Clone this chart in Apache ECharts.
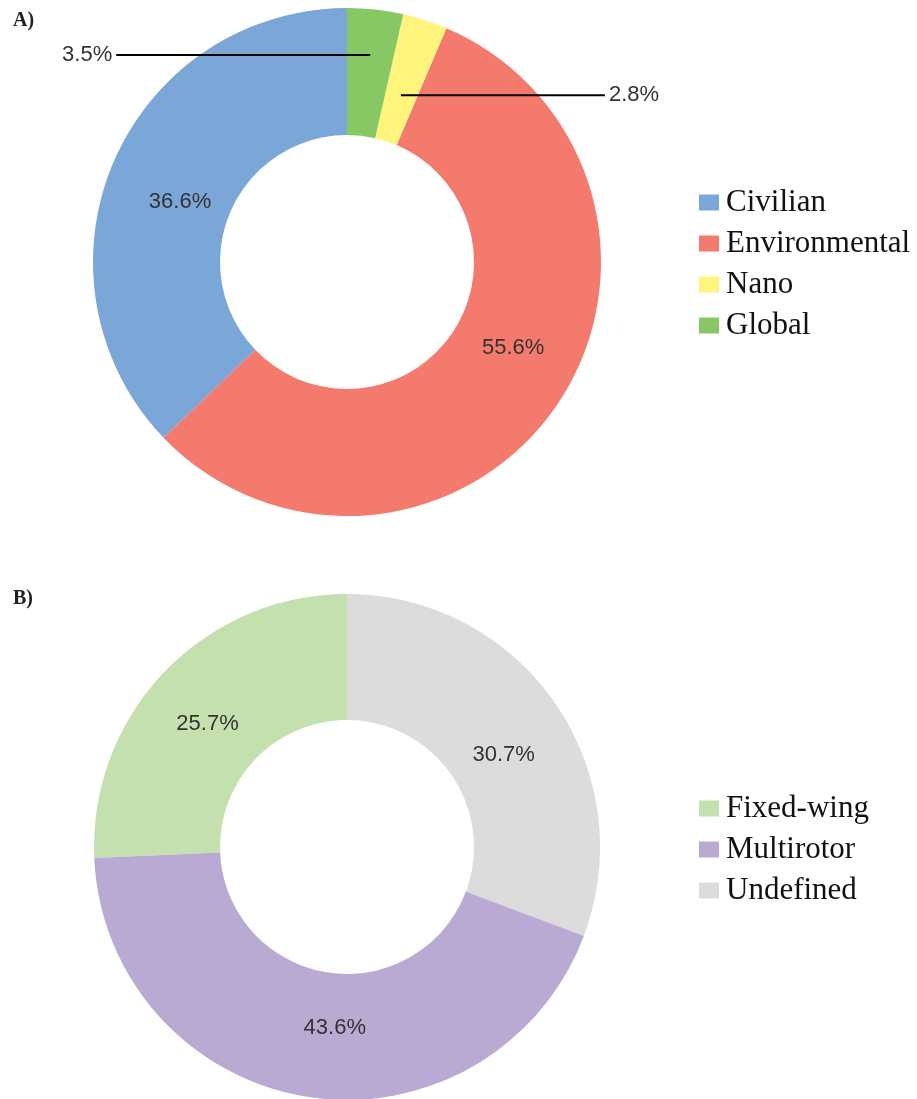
<!DOCTYPE html>
<html>
<head>
<meta charset="utf-8">
<script src="https://cdn.jsdelivr.net/npm/echarts@6/dist/echarts.min.js"></script>
<style>
html,body{margin:0;padding:0;background:#fff;}
#chart{width:917px;height:1099px;}
</style>
</head>
<body>
<div id="chart"></div>
<script>
// Panel A
const categoriesA = ['Civilian', 'Environmental', 'Nano', 'Global'];
const valuesA = [36.6, 55.6, 2.8, 3.5];
const colorsA = ['#7ba6d8', '#f47a6e', '#fff47c', '#88c864'];
// Panel B
const categoriesB = ['Fixed-wing', 'Multirotor', 'Undefined'];
const valuesB = [25.7, 43.6, 30.7];
const colorsB = ['#c3e0ae', '#b9aad4', '#dcdcdc'];

const chart = echarts.init(document.getElementById('chart'), null, {renderer: 'canvas'});

const R0 = 127, R1 = 254;
const centerA = [347, 262], centerB = [347, 847];
const labelFont = {fontFamily: 'Liberation Sans', fontSize: 22, color: '#333'};

// callout settings for the small slices of panel A (radius fraction, line length, direction)
const callouts = {Nano: {rf: 0.69, len: 204, dir: 1}, Global: {rf: 0.82, len: 254, dir: -1}};
// small nudges of inside labels (style only)
const nudge = {
  'Civilian': [11, 16], 'Environmental': [7, -24],
  'Fixed-wing': [0, 10], 'Multirotor': [18, -10], 'Undefined': [-2, 18]
};

function midAngle(values, idx) {
  const total = values.reduce((a, b) => a + b, 0);
  let cum = 0;
  for (let i = 0; i < idx; i++) cum += values[i];
  return (cum + values[idx] / 2) / total * 2 * Math.PI; // counter-clockwise from top
}

function makeData(cats, vals, cols, showFn) {
  return cats.map((c, i) => ({
    name: c, value: vals[i], itemStyle: {color: cols[i]},
    label: {show: showFn(c)}
  }));
}

function nudgeLayout(cats) {
  return function (p) {
    const n = nudge[cats[p.dataIndex]];
    if (!n) return {};
    return {dx: n[0], dy: n[1]};
  };
}

const legendText = {fontFamily: 'Liberation Serif', fontSize: 31, lineHeight: 30, color: '#111', padding: [0, 0, 0, 2]};

const option = {
  animation: false,
  backgroundColor: '#fff',
  title: [
    {text: 'A)', left: 13, top: 11, padding: 0, textStyle: {fontFamily: 'Liberation Serif', fontSize: 20, fontWeight: 'bold', color: '#222'}},
    {text: 'B)', left: 13, top: 589, padding: 0, textStyle: {fontFamily: 'Liberation Serif', fontSize: 20, fontWeight: 'bold', color: '#222'}}
  ],
  legend: [
    {
      data: categoriesA, orient: 'vertical', left: 699, top: 187,
      icon: 'rect', itemWidth: 20, itemHeight: 16, itemGap: 10, padding: 0,
      selectedMode: false, textStyle: legendText
    },
    {
      data: categoriesB, orient: 'vertical', left: 699, top: 793,
      icon: 'rect', itemWidth: 20, itemHeight: 16, itemGap: 10, padding: 0,
      selectedMode: false, textStyle: legendText
    }
  ],
  series: [
    {
      type: 'pie', center: centerA, radius: [R0, R1], clockwise: false, startAngle: 90,
      avoidLabelOverlap: false, silent: true, z: 2,
      label: Object.assign({position: 'inside', formatter: p => p.value.toFixed(1) + '%'}, labelFont),
      labelLine: {show: false},
      labelLayout: nudgeLayout(categoriesA),
      data: makeData(categoriesA, valuesA, colorsA, c => !callouts[c])
    },
    {
      // overlay carrying only the callout labels of the small slices, so the leader lines sit on top
      type: 'pie', center: centerA, radius: [R0, R1], clockwise: false, startAngle: 90,
      avoidLabelOverlap: false, silent: true, z: 5,
      itemStyle: {color: 'rgba(0,0,0,0)'},
      label: Object.assign({position: 'outside', formatter: p => p.value.toFixed(1) + '%'}, labelFont),
      labelLine: {show: true, length: 0, length2: 0, lineStyle: {color: '#000', width: 2}},
      labelLayout: function (p) {
        const c = callouts[categoriesA[p.dataIndex]];
        if (!c) return {};
        const th = midAngle(valuesA, p.dataIndex);
        const r = c.rf * R1;
        const ax = centerA[0] - r * Math.sin(th);
        const ay = centerA[1] - r * Math.cos(th);
        const ex = ax + c.dir * c.len;
        return {
          x: ex + c.dir * 4, y: ay, align: c.dir > 0 ? 'left' : 'right', verticalAlign: 'middle',
          labelLinePoints: [[ax, ay], [(ax + ex) / 2, ay], [ex, ay]]
        };
      },
      data: categoriesA.map((c, i) => ({
        name: c, value: valuesA[i],
        itemStyle: {color: 'rgba(0,0,0,0)'},
        label: {show: !!callouts[c]},
        labelLine: {show: !!callouts[c]}
      }))
    },
    {
      type: 'pie', center: centerB, radius: [R0, R1 - 1], clockwise: false, startAngle: 90,
      avoidLabelOverlap: false, silent: true,
      label: Object.assign({position: 'inside', formatter: p => p.value.toFixed(1) + '%'}, labelFont),
      labelLine: {show: false},
      labelLayout: nudgeLayout(categoriesB),
      data: makeData(categoriesB, valuesB, colorsB, () => true)
    }
  ]
};
chart.setOption(option);
</script>
</body>
</html>
